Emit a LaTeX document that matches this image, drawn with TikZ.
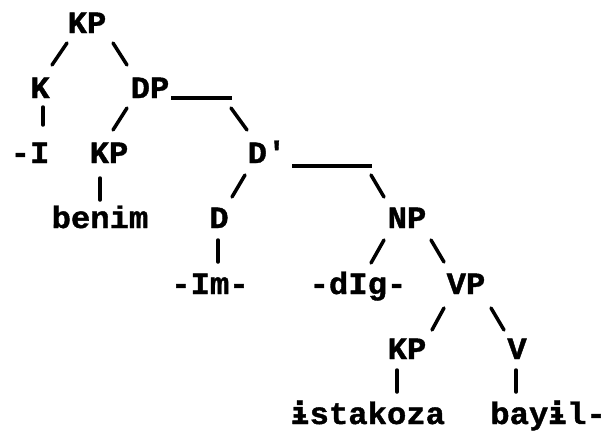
\documentclass[tikz,border=0pt]{standalone}
\usepackage{fontspec}
\newfontfamily\tw[FakeStretch=1.04,BoldFeatures={FakeBold=1.3}]{Liberation Mono}
\newfontfamily\dv[BoldFeatures={FakeBold=1.3}]{DejaVu Sans Mono}
\newcommand{\ibar}{{\dv\bfseries ɨ}}
\begin{document}
\begin{tikzpicture}[x=1pt,y=-1pt,
  lbl/.style={inner sep=0pt, anchor=base, font=\tw\bfseries\fontsize{31}{31}\selectfont},
  conn/.style={line width=3.5pt, line cap=round}]
\useasboundingbox (0,0) rectangle (608,431);
% nodes
\node[lbl] (kp0)  at (87,33)  {KP};
\node[lbl] (k)    at (40,98)  {K};
\node[lbl] (dp)   at (150,98) {DP};
\node[lbl] (mI)   at (30,163) {-I};
\node[lbl] (kp1)  at (109,163) {KP};
\node[lbl] (dbar) at (267,163) {D'};
\node[lbl] (benim) at (100,228) {benim};
\node[lbl] (d)    at (219,228) {D};
\node[lbl] (np)   at (407,228) {NP};
\node[lbl] (mIm)  at (210,294) {-Im-};
\node[lbl] (dig)  at (358,294) {-dIg-};
\node[lbl] (vp)   at (466,294) {VP};
\node[lbl] (kp2)  at (407,359) {KP};
\node[lbl] (v)    at (517,359) {V};
\node[lbl] (ist)  at (368,424) {\ibar stakoza};
\node[lbl] (bay)  at (548,424) {bay\ibar l-};
% connectors
\draw[conn] ([shift={(-20,10)}]kp0.base) -- ([shift={(12,-33)}]k.base);
\draw[conn] ([shift={(26,10)}]kp0.base) -- ([shift={(-23,-33)}]dp.base);
\draw[conn] ([shift={(3,9)}]k.base) -- ([shift={(13,-38)}]mI.base);
\draw[conn] ([shift={(-23,10)}]dp.base) -- ([shift={(4,-33)}]kp1.base);
\draw[conn,line cap=butt] ([shift={(21,0)}]dp.base) -- ([shift={(82,0)}]dp.base);
\draw[conn] ([shift={(81,10)}]dp.base) -- ([shift={(-20,-33)}]dbar.base);
\draw[conn] ([shift={(-9,15)}]kp1.base) -- ([shift={(0,-28)}]benim.base);
\draw[conn,line cap=butt] ([shift={(25,3)}]dbar.base) -- ([shift={(105,3)}]dbar.base);
\draw[conn] ([shift={(-22,12)}]dbar.base) -- ([shift={(13,-31)}]d.base);
\draw[conn] ([shift={(104,12)}]dbar.base) -- ([shift={(-23,-31)}]np.base);
\draw[conn] ([shift={(-1,12)}]d.base) -- ([shift={(8,-32)}]mIm.base);
\draw[conn] ([shift={(-23,12)}]np.base) -- ([shift={(13,-31)}]dig.base);
\draw[conn] ([shift={(24,12)}]np.base) -- ([shift={(-22,-32)}]vp.base);
\draw[conn] ([shift={(-22,14)}]vp.base) -- ([shift={(25,-29)}]kp2.base);
\draw[conn] ([shift={(25,14)}]vp.base) -- ([shift={(-13,-29)}]v.base);
\draw[conn] ([shift={(-10,11)}]kp2.base) -- ([shift={(29,-32)}]ist.base);
\draw[conn] ([shift={(-1,11)}]v.base) -- ([shift={(-32,-32)}]bay.base);
\end{tikzpicture}
\end{document}
